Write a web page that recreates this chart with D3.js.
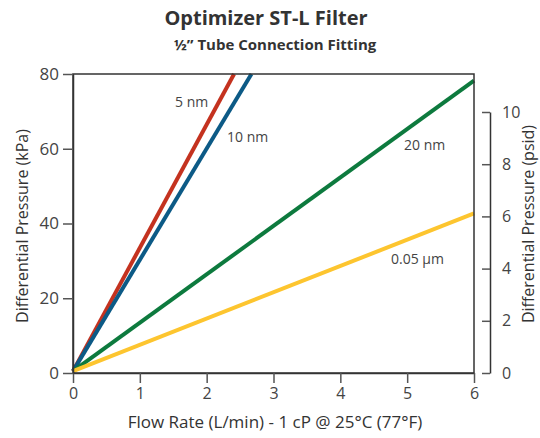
<!DOCTYPE html>
<html>
<head>
<meta charset="utf-8">
<script src="https://cdn.jsdelivr.net/npm/d3@7"></script>
<style>
  body { margin: 0; background: #fff; }
  text { font-family: "Open Sans", "Noto Sans", sans-serif; }
</style>
</head>
<body>
<div class="chart"></div>
<script>
// filter grades and their pressure drop curves (flow L/min, dP kPa)
var grades = ["5 nm", "10 nm", "20 nm", "0.05 µm"];
var flowValues = [[0, 2.41], [0, 2.67], [0, 6], [0, 6]];
var kpaValues = [[0.5, 80], [0.5, 80], [0.5, 78.2], [0.5, 42.7]];
var lineColors = ["#c4321f", "#0c5a86", "#0d7a3e", "#fdc52f"];
var labelPos = [[175, 107], [227, 142], [404, 150], [391, 264]];

var xTicks = [0, 1, 2, 3, 4, 5, 6];
var kpaTicks = [0, 20, 40, 60, 80];
var psiTicks = [0, 2, 4, 6, 8, 10];

var width = 540, height = 438;
var plotLeft = 73, plotRight = 474, plotTop = 74, plotBottom = 373;

var svg = d3.select(".chart").append("svg")
    .attr("width", width)
    .attr("height", height);

var x = d3.scaleLinear().domain([0, 6]).range([plotLeft, plotRight]);
var y = d3.scaleLinear().domain([0, 80]).range([plotBottom, plotTop]);
var yPsi = d3.scaleLinear().domain([0, 10]).range([plotBottom, 112]);

// title
svg.append("text")
    .attr("x", 266).attr("y", 25)
    .attr("text-anchor", "middle")
    .attr("font-size", 20).attr("font-weight", "bold")
    .attr("fill", "#333")
    .text("Optimizer ST-L Filter");
svg.append("text")
    .attr("x", 275).attr("y", 50)
    .attr("text-anchor", "middle")
    .attr("font-size", 15).attr("font-weight", "bold")
    .attr("fill", "#333")
    .text("½\u201D Tube Connection Fitting");

// lines
var line = d3.line()
    .x(function (d) { return x(d[0]); })
    .y(function (d) { return y(d[1]); });

grades.forEach(function (g, i) {
    var pts = flowValues[i].map(function (f, j) { return [f, kpaValues[i][j]]; });
    svg.append("path")
        .datum(pts)
        .attr("d", line)
        .attr("fill", "none")
        .attr("stroke", lineColors[i])
        .attr("stroke-width", 4);
    svg.append("text")
        .attr("x", labelPos[i][0]).attr("y", labelPos[i][1])
        .attr("font-size", 14)
        .attr("fill", "#444")
        .text(g);
});

// frame
svg.append("rect")
    .attr("x", plotLeft).attr("y", plotTop)
    .attr("width", plotRight - plotLeft).attr("height", plotBottom - plotTop)
    .attr("fill", "none")
    .attr("stroke", "#333")
    .attr("stroke-width", 1.5);

function styleAxis(g) {
    g.selectAll("path").attr("stroke", "#333").attr("stroke-width", 1.5);
    g.selectAll("line").attr("stroke", "#555").attr("stroke-width", 1.5);
    g.selectAll("text").attr("fill", "#444")
        .attr("font-family", "'Open Sans', sans-serif");
}

var xAxis = svg.append("g")
    .attr("transform", "translate(0," + plotBottom + ")")
    .call(d3.axisBottom(x).tickValues(xTicks).tickFormat(d3.format("d"))
        .tickSize(10).tickSizeOuter(0).tickPadding(5))
    .attr("font-size", 16);
styleAxis(xAxis);

var yAxis = svg.append("g")
    .attr("transform", "translate(" + plotLeft + ",0)")
    .call(d3.axisLeft(y).tickValues(kpaTicks).tickSize(10).tickSizeOuter(0).tickPadding(4))
    .attr("font-size", 17);
styleAxis(yAxis);

var psiAxis = svg.append("g")
    .attr("transform", "translate(490,0)")
    .call(d3.axisRight(yPsi).tickValues(psiTicks).tickSize(-8).tickSizeOuter(0).tickPadding(12))
    .attr("font-size", 16);
styleAxis(psiAxis);

// axis titles
svg.append("text")
    .attr("x", 275).attr("y", 428)
    .attr("text-anchor", "middle")
    .attr("font-size", 17).attr("fill", "#333")
    .text("Flow Rate (L/min) - 1 cP @ 25°C (77°F)");
svg.append("text")
    .attr("transform", "translate(28,226) rotate(-90)")
    .attr("text-anchor", "middle")
    .attr("font-size", 16).attr("fill", "#333")
    .text("Differential Pressure (kPa)");
svg.append("text")
    .attr("transform", "translate(534,224) rotate(-90)")
    .attr("text-anchor", "middle")
    .attr("font-size", 16).attr("fill", "#333")
    .text("Differential Pressure (psid)");
</script>
</body>
</html>
